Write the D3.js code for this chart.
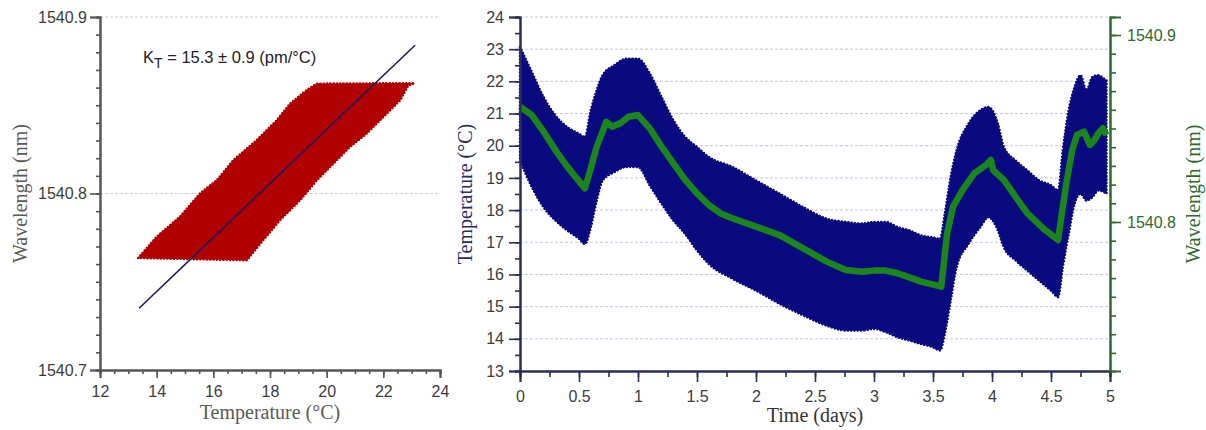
<!DOCTYPE html>
<html>
<head>
<meta charset="utf-8">
<script src="https://cdn.jsdelivr.net/npm/d3@7"></script>
<style>
  body { margin: 0; background: #fff; }
  svg { display: block; }
  .tick text { font-family: "Liberation Sans", Arial, sans-serif; font-size: 16px; fill: #3c3c3c; }
  .title { font-family: "Liberation Serif", "Times New Roman", serif; font-size: 20px; }
</style>
</head>
<body>
<svg id="canvas" width="1206" height="430"></svg>
<script>
// ---- left panel: wavelength vs temperature (outline of the red cloud) ----
var cloudLeftEdge = [[13.35, 1540.7635], [14.0, 1540.7755], [14.82, 1540.7868], [15.53, 1540.8],
  [16.12, 1540.8075], [16.71, 1540.8189], [17.53, 1540.8302], [18.24, 1540.8415],
  [18.71, 1540.8509], [19.29, 1540.8585], [19.65, 1540.8622]];
var cloudRightEdge = [[23.1, 1540.8625], [22.88, 1540.8613], [22.59, 1540.8528], [22.0, 1540.8434],
  [21.41, 1540.834], [20.82, 1540.8264], [20.24, 1540.817], [19.65, 1540.8075],
  [19.06, 1540.7962], [18.35, 1540.7849], [17.76, 1540.7736], [17.18, 1540.7622]];
var fitT = [13.38, 23.12];
var fitW = [1540.735, 1540.884];
var leftXTicks = [12, 14, 16, 18, 20, 22, 24];
var leftYTicks = [1540.7, 1540.8, 1540.9];

// ---- right panel: temperature band and wavelength trace vs time ----
var bandTime  = [0, 0.1, 0.2, 0.3, 0.4, 0.5, 0.55, 0.6, 0.65, 0.7, 0.8, 0.9, 1.0, 1.1, 1.2, 1.3, 1.4, 1.5,
  1.6, 1.8, 2.0, 2.2, 2.4, 2.6, 2.76, 2.9, 3.0, 3.1, 3.2, 3.3, 3.4, 3.5, 3.56, 3.6, 3.65, 3.7, 3.8, 3.9,
  3.97, 4.05, 4.1, 4.2, 4.3, 4.4, 4.5, 4.56, 4.6, 4.65, 4.7, 4.75, 4.8, 4.85, 4.9, 4.95, 4.97];
var bandUpper = [23.07, 22.29, 21.51, 20.94, 20.58, 20.37, 20.27, 21.1, 21.72, 22.19, 22.5, 22.7, 22.7,
  22.24, 21.51, 20.79, 20.27, 19.96, 19.65, 19.34, 18.92, 18.51, 18.09, 17.73, 17.63, 17.58, 17.63, 17.63,
  17.47, 17.37, 17.21, 17.15, 17.11, 17.89, 19.03, 19.85, 20.68, 21.1, 21.2, 20.68, 19.96, 19.54, 19.23,
  18.92, 18.77, 18.61, 19.85, 21.1, 21.82, 22.19, 21.72, 22.13, 22.19, 22.08, 22.03];
var bandLower = [19.54, 18.72, 18.09, 17.68, 17.37, 17.11, 16.95, 17.47, 18.3, 18.92, 19.18, 19.34, 19.34,
  18.77, 18.2, 17.68, 17.26, 16.75, 16.33, 15.87, 15.5, 15.09, 14.73, 14.41, 14.26, 14.26, 14.31, 14.21,
  14.05, 13.95, 13.84, 13.74, 13.64, 14.16, 15.2, 16.23, 16.95, 17.47, 17.78, 17.37, 16.85, 16.44, 16.12,
  15.81, 15.5, 15.3, 16.23, 17.26, 18.2, 18.51, 18.3, 18.4, 18.61, 18.56, 18.51];

var traceTime = [0, 0.1, 0.2, 0.3, 0.4, 0.55, 0.6, 0.65, 0.7, 0.73, 0.78, 0.85, 0.92, 1.0, 1.1, 1.2, 1.3,
  1.4, 1.5, 1.6, 1.7, 1.8, 2.0, 2.2, 2.4, 2.6, 2.76, 2.9, 3.0, 3.1, 3.2, 3.3, 3.4, 3.57, 3.62, 3.67, 3.75,
  3.85, 3.95, 3.99, 4.01, 4.1, 4.2, 4.3, 4.45, 4.56, 4.6, 4.63, 4.68, 4.72, 4.78, 4.83, 4.87, 4.9, 4.94, 4.97];
var traceWl = [1540.8617, 1540.8572, 1540.8483, 1540.8385, 1540.8296, 1540.818, 1540.8287, 1540.8403,
  1540.8483, 1540.8536, 1540.851, 1540.8528, 1540.8563, 1540.8572, 1540.8501, 1540.8403, 1540.8314,
  1540.8225, 1540.8153, 1540.8091, 1540.8046, 1540.802, 1540.7975, 1540.793, 1540.7859, 1540.7788,
  1540.7743, 1540.7734, 1540.774, 1540.774, 1540.7726, 1540.7704, 1540.7681, 1540.7654, 1540.794,
  1540.8082, 1540.8171, 1540.826, 1540.8305, 1540.8332, 1540.8278, 1540.8225, 1540.8135, 1540.8046,
  1540.7957, 1540.7904, 1540.8082, 1540.8207, 1540.8385, 1540.8465, 1540.8483, 1540.8412, 1540.8439,
  1540.8474, 1540.8501, 1540.8465];

var timeTicks = [0, 0.5, 1, 1.5, 2, 2.5, 3, 3.5, 4, 4.5, 5];
var tempTicks = [13, 14, 15, 16, 17, 18, 19, 20, 21, 22, 23, 24];
var wlTicks = [1540.8, 1540.9];

var svg = d3.select("#canvas");
var RED = "#b00000", NAVY = "#0a0a80", GREEN = "#1b861b";
var GRID = "#c4c4de";

function minorTicks(lo, hi, step){
    var out = [];
    for (var i = 0; lo + i*step <= hi + 1e-9; i++){
        out.push(+(lo + i*step).toFixed(4));
    }
    return out;
}

function styleAxis(g, colour){
    g.select(".domain").attr("stroke", colour).attr("stroke-width", 2);
    g.selectAll(".tick line").attr("stroke", colour).attr("stroke-width", 1.6);
}

// ================= LEFT PANEL =================
var lx = d3.scaleLinear().domain([12, 24]).range([100, 440]);
var ly = d3.scaleLinear().domain([1540.7, 1540.9]).range([370, 17]);

// grid
svg.append("g").selectAll("line").data([1540.8, 1540.9]).enter().append("line")
    .attr("x1", lx(12)).attr("x2", lx(24))
    .attr("y1", function(d){ return ly(d); }).attr("y2", function(d){ return ly(d); })
    .attr("stroke", "#cfcfcf").attr("stroke-dasharray", "3,2");

// red cloud, with a dotted rim for the fuzzy edge
var cloud = cloudLeftEdge.concat(cloudRightEdge);
var cloudLine = d3.line().x(function(d){ return lx(d[0]); }).y(function(d){ return ly(d[1]); })
    .curve(d3.curveLinearClosed);
svg.append("path").attr("d", cloudLine(cloud))
    .attr("fill", RED).attr("stroke", RED).attr("stroke-width", 2.6)
    .attr("stroke-dasharray", "0.1,3.2").attr("stroke-linecap", "round");
svg.append("path").attr("d", cloudLine(cloud)).attr("fill", RED);

// fit line
svg.append("line")
    .attr("x1", lx(fitT[0])).attr("y1", ly(fitW[0]))
    .attr("x2", lx(fitT[1])).attr("y2", ly(fitW[1]))
    .attr("stroke", "#1c1c5c").attr("stroke-width", 1.6);

// axes
var lxMinor = svg.append("g").attr("transform", "translate(0,370)")
    .call(d3.axisBottom(lx).tickValues(minorTicks(12, 24, 0.5)).tickSize(4).tickFormat(""));
styleAxis(lxMinor, "#555");
var lxAxis = svg.append("g").attr("transform", "translate(0,370)")
    .call(d3.axisBottom(lx).tickValues(leftXTicks).tickSize(8).tickPadding(8).tickFormat(d3.format("d")));
styleAxis(lxAxis, "#555");

var lyMinor = svg.append("g").attr("transform", "translate(100,0)")
    .call(d3.axisLeft(ly).tickValues(minorTicks(1540.7, 1540.9, 0.01)).tickSize(4).tickFormat(""));
styleAxis(lyMinor, "#555");
var lyAxis = svg.append("g").attr("transform", "translate(100,0)")
    .call(d3.axisLeft(ly).tickValues(leftYTicks).tickSize(10).tickPadding(3).tickFormat(d3.format(".1f")));
styleAxis(lyAxis, "#555");

// annotation
var note = svg.append("text").attr("x", 143).attr("y", 63)
    .attr("font-family", "Liberation Sans, Arial, sans-serif").attr("font-size", 16.5).attr("fill", "#222");
note.append("tspan").text("K");
note.append("tspan").attr("dy", 5).attr("font-size", 14).text("T");
note.append("tspan").attr("dy", -5).text(" = 15.3 \u00b1 0.9 (pm/\u00b0C)");

svg.append("text").attr("class", "title").attr("fill", "#5a5a5a")
    .attr("x", lx(18)).attr("y", 419).attr("text-anchor", "middle").text("Temperature (\u00b0C)");
svg.append("text").attr("class", "title").attr("fill", "#5a5a5a")
    .attr("transform", "translate(27," + ly(1540.8) + ") rotate(-90)")
    .attr("text-anchor", "middle").text("Wavelength (nm)");

// ================= RIGHT PANEL =================
var rx = d3.scaleLinear().domain([0, 5]).range([520, 1110]);
var ry = d3.scaleLinear().domain([13, 24]).range([371, 17]);
var rw = d3.scaleLinear().domain([1540.8, 1540.9]).range([222, 35]);

svg.append("g").selectAll("line").data(tempTicks.slice(1)).enter().append("line")
    .attr("x1", rx(0)).attr("x2", rx(5))
    .attr("y1", function(d){ return ry(d); }).attr("y2", function(d){ return ry(d); })
    .attr("stroke", GRID).attr("stroke-dasharray", "3,2");

// blue temperature band
var bandData = bandTime.map(function(t, i){ return {t: t, hi: bandUpper[i], lo: bandLower[i]}; });
var band = d3.area().x(function(d){ return rx(d.t); })
    .y0(function(d){ return ry(d.lo); }).y1(function(d){ return ry(d.hi); })
    .curve(d3.curveMonotoneX);
svg.append("path").attr("d", band(bandData)).attr("fill", NAVY)
    .attr("stroke", NAVY).attr("stroke-width", 2.6)
    .attr("stroke-dasharray", "0.1,3.2").attr("stroke-linecap", "round");
svg.append("path").attr("d", band(bandData)).attr("fill", NAVY);

// green wavelength trace
var trace = traceTime.map(function(t, i){ return [t, traceWl[i]]; });
svg.append("path")
    .attr("d", d3.line().x(function(d){ return rx(d[0]); }).y(function(d){ return rw(d[1]); })(trace))
    .attr("fill", "none").attr("stroke", GREEN).attr("stroke-width", 6.5)
    .attr("stroke-linejoin", "round");

// axes
var rxMinor = svg.append("g").attr("transform", "translate(0,371)")
    .call(d3.axisBottom(rx).tickValues(minorTicks(0, 5, 0.25)).tickSize(6).tickFormat(""));
styleAxis(rxMinor, "#2c2c58");
var rxAxis = svg.append("g").attr("transform", "translate(0,371)")
    .call(d3.axisBottom(rx).tickValues(timeTicks).tickSize(11).tickPadding(9).tickFormat(d3.format("")));
styleAxis(rxAxis, "#2c2c58");

var ryMinor = svg.append("g").attr("transform", "translate(520,0)")
    .call(d3.axisLeft(ry).tickValues(minorTicks(13, 24, 0.5)).tickSize(5).tickFormat(""));
styleAxis(ryMinor, "#2c2c58");
var ryAxis = svg.append("g").attr("transform", "translate(520,0)")
    .call(d3.axisLeft(ry).tickValues(tempTicks).tickSize(11).tickPadding(5).tickFormat(d3.format("d")));
styleAxis(ryAxis, "#2c2c58");

var rwAxisScale = d3.scaleLinear().domain([rw.invert(371), rw.invert(17)]).range([371, 17]);
var rwMinor = svg.append("g").attr("transform", "translate(1110,0)")
    .call(d3.axisRight(rwAxisScale).tickValues(minorTicks(1540.73, 1540.9, 0.01)).tickSize(6).tickFormat(""));
styleAxis(rwMinor, "#2d6a2d");
var rwAxis = svg.append("g").attr("transform", "translate(1110,0)")
    .call(d3.axisRight(rwAxisScale).tickValues(wlTicks).tickSize(11).tickPadding(6).tickFormat(d3.format(".1f")));
styleAxis(rwAxis, "#2d6a2d");
rwAxis.selectAll(".tick text").style("fill", "#2d6a2d");

svg.append("text").attr("class", "title").attr("fill", "#333")
    .attr("x", rx(2.5)).attr("y", 422).attr("text-anchor", "middle").text("Time (days)");
svg.append("text").attr("class", "title").attr("fill", "#2a2a60")
    .attr("transform", "translate(472," + ry(18.5) + ") rotate(-90)")
    .attr("text-anchor", "middle").text("Temperature (\u00b0C)");
svg.append("text").attr("class", "title").attr("fill", "#2d6a2d")
    .attr("transform", "translate(1200," + ry(18.5) + ") rotate(-90)")
    .attr("text-anchor", "middle").text("Wavelength (nm)");
</script>
</body>
</html>
